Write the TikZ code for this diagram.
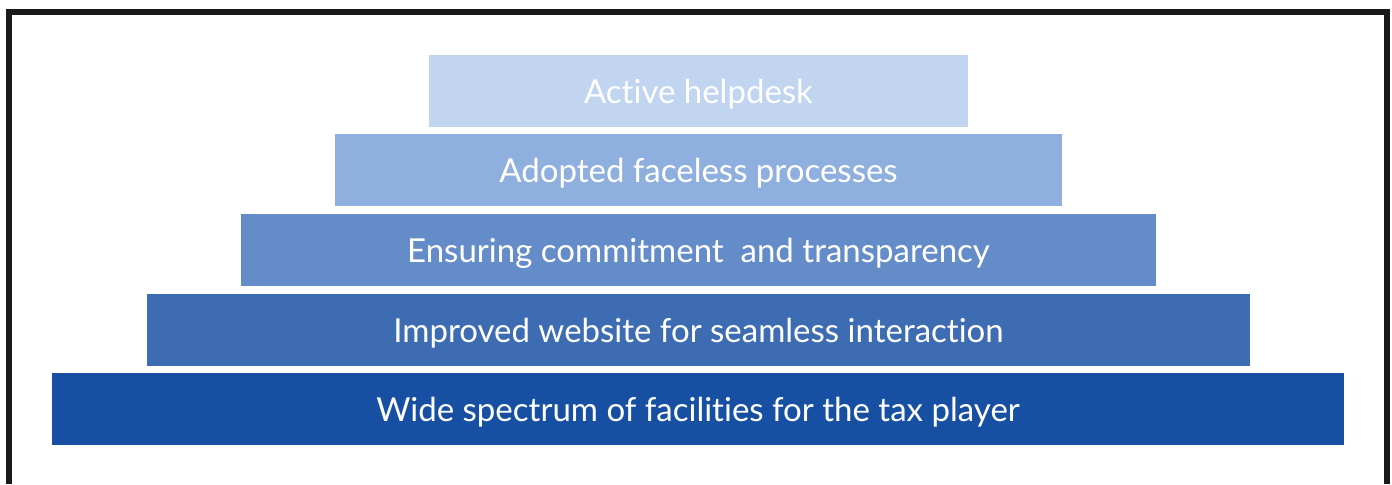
\documentclass[tikz,border=0pt]{standalone}
\usepackage{fontspec}
\setmainfont{Lato}[Ligatures=NoCommon]
\definecolor{tierOne}{HTML}{C1D5F1}
\definecolor{tierTwo}{HTML}{8FAFDE}
\definecolor{tierThree}{HTML}{648CC8}
\definecolor{tierFour}{HTML}{3D6CB3}
\definecolor{tierFive}{HTML}{1750A3}
\definecolor{frameInk}{HTML}{1A1A1A}

\begin{document}
\begin{tikzpicture}[x=0.5pt, y=-0.5pt,
    tier/.style={draw=none, text=white, minimum height=36pt, inner sep=0pt,
      text height=13pt, text depth=0.7pt,
      font=\fontsize{16.5}{18}\selectfont}]
  \useasboundingbox (0,0) rectangle (1392,484);
  % Frame: open at the bottom
  \draw[frameInk, line width=3pt] (9,484) -- (9,11.5) -- (1387,11.5) -- (1387,484);
  % Tiers, top to bottom, each 94px wider per side
  \node[tier, fill=tierOne,   minimum width=269.5pt] (helpdesk)    at (698.5,91)  {Active helpdesk};
  \node[tier, fill=tierTwo,   minimum width=363.5pt] (faceless)    at (698.5,170) {Adopted faceless processes};
  \node[tier, fill=tierThree, minimum width=457.5pt] (commitment)  at (698.5,250) {Ensuring commitment~ and transparency};
  \node[tier, fill=tierFour,  minimum width=551.5pt] (website)     at (698.5,330) {Improved website for seamless interaction};
  \node[tier, fill=tierFive,  minimum width=646pt]   (facilities)  at (698,409)   {Wide spectrum of facilities for the tax player};
\end{tikzpicture}
\end{document}
